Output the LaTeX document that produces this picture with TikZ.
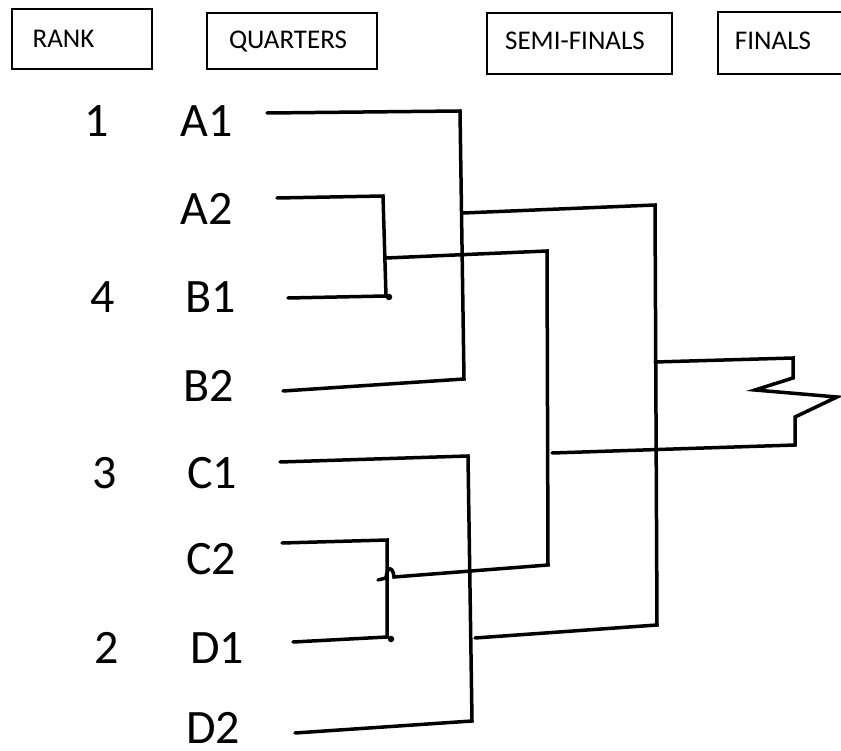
\documentclass[tikz,border=0pt]{standalone}
\usepackage{fontspec}
\setmainfont{Carlito}
\begin{document}
\begin{tikzpicture}[x=1pt,y=-1pt,line cap=round,line join=miter,
  hbox/.style={draw,line width=1.5pt,inner sep=0pt},
  htext/.style={anchor=base,inner sep=0pt,font=\fontsize{27}{30}\selectfont},
  lbl/.style={anchor=base,inner sep=0pt,font=\fontsize{48}{54}\selectfont},
  wire/.style={draw,line width=3.5pt},
  blob/.style={fill,circle,inner sep=0pt,minimum size=6.5pt}]
\useasboundingbox (0,0) rectangle (841,751);
\fill[white] (0,0) rectangle (841,751);
% headers
\node[hbox,minimum width=140pt,minimum height=60pt] (rankbox) at (82,39) {};
\node[htext] (ranktxt) at (63.5,48) {RANK};
\node[hbox,minimum width=170pt,minimum height=56pt] (qbox) at (292,41) {};
\node[htext] (qtxt) at (288,49) {QUARTERS};
\node[hbox,minimum width=185pt,minimum height=61pt] (sbox) at (579.5,43.5) {};
\node[htext] (stxt) at (575,50) {SEMI-FINALS};
\node[hbox,minimum width=140pt,minimum height=62pt] (fbox) at (788,43) {};
\node[htext] (ftxt) at (773,50) {FINALS};
% rank numbers
\node[lbl] (r1) at (97,137) {1};
\node[lbl] (r4) at (103,313) {4};
\node[lbl] (r3) at (105,488) {3};
\node[lbl] (r2) at (107,663) {2};
% teams
\node[lbl] (A1) at (207,137) {A1};
\node[lbl] (A2) at (207,225) {A2};
\node[lbl] (B1) at (211,313) {B1};
\node[lbl] (B2) at (209,402) {B2};
\node[lbl] (C1) at (212,488) {C1};
\node[lbl] (C2) at (211,574) {C2};
\node[lbl] (D1) at (217,663) {D1};
\node[lbl] (D2) at (213,743) {D2};
% coordinates
\coordinate (a1s) at (267,113); \coordinate (a1e) at (460,111);
\coordinate (b2e) at (464,379); \coordinate (b2s) at (283,391);
\coordinate (a2s) at (277,198); \coordinate (a2e) at (383,196);
\coordinate (b1e) at (386,296); \coordinate (b1s) at (288,298);
\coordinate (abm) at (386,258); \coordinate (abr) at (547,251);
\coordinate (abb) at (548,565); \coordinate (abl) at (378,580);
\coordinate (c1s) at (280,462); \coordinate (c1e) at (468,456);
\coordinate (d2e) at (472,721); \coordinate (d2s) at (295,733);
\coordinate (c2s) at (282,543); \coordinate (c2e) at (387,540);
\coordinate (d1e) at (387,637); \coordinate (d1s) at (293,642);
\coordinate (stm) at (463,213); \coordinate (str) at (655,205);
\coordinate (sbr) at (657,625); \coordinate (cdm) at (475,638);
\coordinate (fm) at (552,453);
\coordinate (f1) at (655,362); \coordinate (f2) at (793,358);
\coordinate (f3) at (793,378); \coordinate (f4) at (755,390);
\coordinate (f5) at (837,397); \coordinate (f6) at (795,417);
\coordinate (f7) at (795,445);
% quarter brackets
\draw[wire] (a1s) -- (a1e) -- (b2e) -- (b2s);
\draw[wire] (a2s) -- (a2e) -- (b1e) -- (b1s);
\draw[wire] (c1s) -- (c1e) -- (d2e) -- (d2s);
\draw[wire] (c2s) -- (c2e) -- (d1e) -- (d1s);
\node[blob] (bl1) at (389,297) {};
\node[blob] (bl2) at (391,639) {};
% semi connections
\draw[wire] (abm) -- (abr) -- (abb) -- (394,577) .. controls (393,566) and (387,566) .. (386,578) -- (abl);
\draw[wire] (stm) -- (str) -- (sbr) -- (cdm);
% final
\draw[wire] (f1) -- (f2) -- (f3) -- (f4) -- (f5) -- (f6) -- (f7) -- (fm);
\end{tikzpicture}
\end{document}
